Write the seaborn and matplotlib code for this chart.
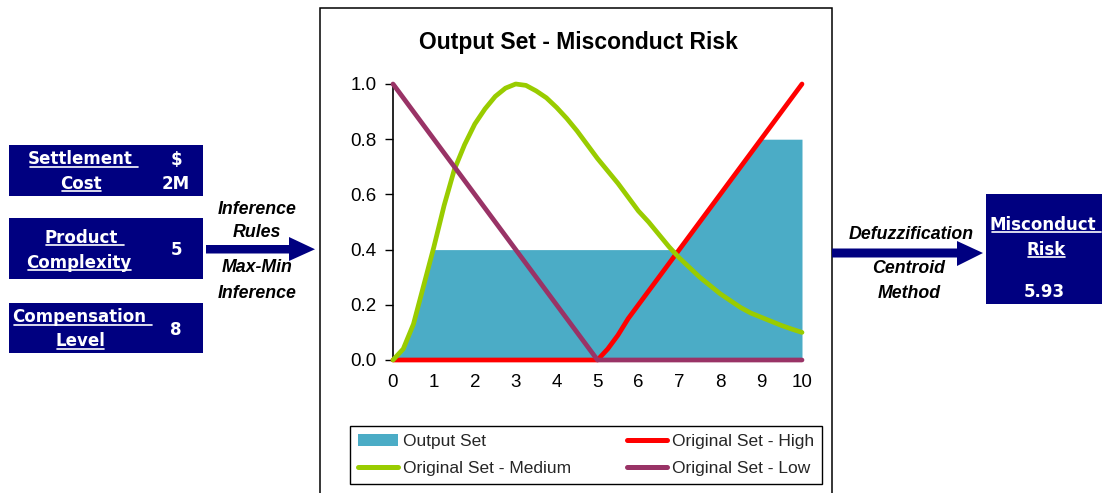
import matplotlib
matplotlib.use("Agg")
import matplotlib.pyplot as plt
import seaborn as sns
import pandas as pd
from matplotlib.patches import Rectangle, Polygon, Patch
from matplotlib.lines import Line2D
from matplotlib.ticker import FormatStrFormatter

# ---- membership functions of the output variable (risk score 0-10) ----
risk_x = [0, 0.25, 0.5, 0.75, 1, 1.25, 1.5, 1.75, 2, 2.25, 2.5, 2.75, 3,
          3.25, 3.5, 3.75, 4, 4.25, 4.5, 4.75, 5, 5.25, 5.5, 5.75, 6,
          6.25, 6.5, 6.75, 7, 7.25, 7.5, 7.75, 8, 8.25, 8.5, 8.75, 9,
          9.25, 9.5, 9.75, 10]
set_medium = [0, 0.04, 0.13, 0.27, 0.41, 0.56, 0.69, 0.78, 0.855, 0.91, 0.955, 0.985, 1.0,
              0.995, 0.975, 0.95, 0.915, 0.875, 0.83, 0.78, 0.73, 0.685, 0.64, 0.59, 0.54,
              0.50, 0.455, 0.41, 0.37, 0.335, 0.30, 0.27, 0.24, 0.215, 0.19, 0.17, 0.155,
              0.14, 0.125, 0.112, 0.10]
set_high = [0, 0, 0, 0, 0, 0, 0, 0, 0, 0, 0, 0, 0,
            0, 0, 0, 0, 0, 0, 0, 0, 0.04, 0.09, 0.15, 0.2,
            0.25, 0.3, 0.35, 0.4, 0.45, 0.5, 0.55, 0.6, 0.65, 0.7, 0.75, 0.8,
            0.85, 0.9, 0.95, 1.0]
set_low = [1.0, 0.95, 0.9, 0.85, 0.8, 0.75, 0.7, 0.65, 0.6, 0.55, 0.5, 0.45, 0.4,
           0.35, 0.3, 0.25, 0.2, 0.15, 0.1, 0.05, 0, 0, 0, 0, 0,
           0, 0, 0, 0, 0, 0, 0, 0, 0, 0, 0, 0,
           0, 0, 0, 0]

# aggregated (max-min clipped) output set
output_x = [0, 0.25, 0.5, 0.75, 0.98, 7.0, 9.0, 10.0]
output_y = [0, 0.04, 0.13, 0.27, 0.40, 0.40, 0.80, 0.80]

x_ticks = list(range(0, 11))
y_ticks = [0.0, 0.2, 0.4, 0.6, 0.8, 1.0]

# input variables and result
inputs = [("Settlement", "Cost", ["$", "2M"]),
          ("Product", "Complexity", ["5"]),
          ("Compensation", "Level", ["8"])]
result_label = ["Misconduct", "Risk"]
result_value = "5.93"

NAVY = "#000080"
C_FILL = "#4BACC6"
C_HIGH = "#FF0000"
C_MED = "#99CC00"
C_LOW = "#993366"

sns.set_theme(style="white")
plt.rcParams["font.family"] = ["Liberation Sans", "DejaVu Sans"]

W, H = 1102, 493
fig = plt.figure(figsize=(W / 100, H / 100), dpi=100)
fig.patch.set_facecolor("white")


def fx(x):
    return x / W


def fy(y):
    return 1 - y / H


# ---- central chart ----
ax = fig.add_axes([fx(393), fy(360), (802 - 393) / W, (360 - 84) / H])
ax.set_facecolor("white")

ax.fill_between(output_x, output_y, 0, color=C_FILL, lw=0, zorder=1)

df = pd.DataFrame({
    "x": risk_x * 3,
    "value": set_high + set_medium + set_low,
    "series": ["High"] * len(risk_x) + ["Medium"] * len(risk_x) + ["Low"] * len(risk_x),
})
sns.lineplot(data=df, x="x", y="value", hue="series",
             hue_order=["High", "Medium", "Low"],
             palette={"High": C_HIGH, "Medium": C_MED, "Low": C_LOW},
             linewidth=3.4, estimator=None, sort=False, legend=False, ax=ax, zorder=3)
for ln in ax.lines:
    ln.set_clip_on(False)
    ln.set_solid_capstyle("round")
    ln.set_solid_joinstyle("round")

ax.set_xlim(0, 10)
ax.set_ylim(0, 1)
ax.set_xticks(x_ticks)
ax.set_yticks(y_ticks)
ax.yaxis.set_major_formatter(FormatStrFormatter("%.1f"))
ax.set_xlabel("")
ax.set_ylabel("")
for side in ["top", "right", "bottom"]:
    ax.spines[side].set_visible(False)
ax.spines["left"].set_color("black")
ax.spines["left"].set_linewidth(1.2)
ax.tick_params(axis="y", length=6, width=1, direction="out", color="black",
               pad=6, labelsize=13.5, labelcolor="black", left=True)
ax.tick_params(axis="x", length=0, pad=10, labelsize=13.5, labelcolor="black")

fig.text(fx(578), fy(49), "Output Set - Misconduct Risk", ha="center", va="baseline",
         fontsize=16.5, fontweight="bold", color="black")

handles = [Patch(facecolor=C_FILL, edgecolor="none"),
           Line2D([], [], color=C_MED, lw=3.6, solid_capstyle="round"),
           Line2D([], [], color=C_HIGH, lw=3.6, solid_capstyle="round"),
           Line2D([], [], color=C_LOW, lw=3.6, solid_capstyle="round")]
labels = ["Output Set", "Original Set - Medium", "Original Set - High", "Original Set - Low"]
leg = fig.legend(handles, labels, ncol=2, loc="lower left",
                 bbox_to_anchor=(fx(350), fy(484), (822 - 350) / W, (484 - 423) / H),
                 mode="expand", frameon=True, fancybox=False, edgecolor="black",
                 fontsize=12.5, handlelength=2.3, handletextpad=0.3, borderpad=0.45,
                 labelspacing=0.7, borderaxespad=0)
leg.get_frame().set_linewidth(1.0)
leg.get_frame().set_alpha(1)

# outer frame around the chart
fig.add_artist(Rectangle((fx(320), fy(520)), (832 - 320) / W, (520 - 8) / H,
                         transform=fig.transFigure, fill=False, ec="black", lw=1.1))

# ---- input and output boxes ----
box_font = dict(family="DejaVu Sans", fontweight="bold", fontsize=12, color="white")
underlined = []


def add_box(x0, y0, x1, y1):
    fig.add_artist(Rectangle((fx(x0), fy(y1)), (x1 - x0) / W, (y1 - y0) / H,
                             transform=fig.transFigure, facecolor=NAVY, edgecolor="none"))


def label(x, y, s, underline_extra=None):
    t = fig.text(fx(x), fy(y), s, ha="center", va="baseline", **box_font)
    if underline_extra is not None:
        underlined.append((t, y, underline_extra))
    return t


box_rows = [(145, 196), (218, 279), (303, 353)]
name_pos = [((80, 164.5, 7), (81, 189, 0)),
            ((81, 243, 7), (79, 267.5, 0)),
            ((79, 322.5, 7), (80, 346.5, 0))]
value_base = [[165, 189], [255], [335]]
for (y0, y1), (line1, line2, vals), pos, vb in zip(box_rows, inputs, name_pos, value_base):
    add_box(9, y0, 203, y1)
    label(pos[0][0], pos[0][1], line1, pos[0][2])
    label(pos[1][0], pos[1][1], line2, pos[1][2])
    for v, b in zip(vals, vb):
        label(176, b, v)

add_box(986, 194, 1102, 304)
label(1043, 230, result_label[0], 6)
label(1046, 255, result_label[1], 0)
label(1044, 297, result_value)

# ---- arrows ----
def arrow(x0, x_head, x_tip, y_top, y_bot, h_top, h_bot):
    ym = (y_top + y_bot) / 2
    pts = [(x0, y_top), (x_head, y_top), (x_head, h_top), (x_tip, ym),
           (x_head, h_bot), (x_head, y_bot), (x0, y_bot)]
    fig.add_artist(Polygon([(fx(a), fy(b)) for a, b in pts], closed=True,
                           transform=fig.transFigure, facecolor=NAVY, edgecolor="none"))


arrow(206, 289, 315, 245, 253.5, 237, 261)
arrow(832, 957, 983, 248.5, 257.5, 241, 266)

ital = dict(fontweight="bold", fontstyle="italic", fontsize=12.8, color="black",
            ha="center", va="baseline")
for s, x, y in [("Inference", 257, 214), ("Rules", 257, 237),
                ("Max-Min", 257, 272.5), ("Inference", 257, 298),
                ("Defuzzification", 911, 239), ("Centroid", 909, 273),
                ("Method", 909, 298)]:
    fig.text(fx(x), fy(y), s, **ital)

# underline the variable names
fig.canvas.draw()
renderer = fig.canvas.get_renderer()
for t, yb, extra in underlined:
    bb = t.get_window_extent(renderer)
    yl = yb + 2
    fig.add_artist(Line2D([(bb.x0 + 2) / W, (bb.x1 - 1 + extra) / W], [fy(yl), fy(yl)],
                          transform=fig.transFigure, color="white", lw=1.2))

fig.savefig("out.png", dpi=100, facecolor="white")
